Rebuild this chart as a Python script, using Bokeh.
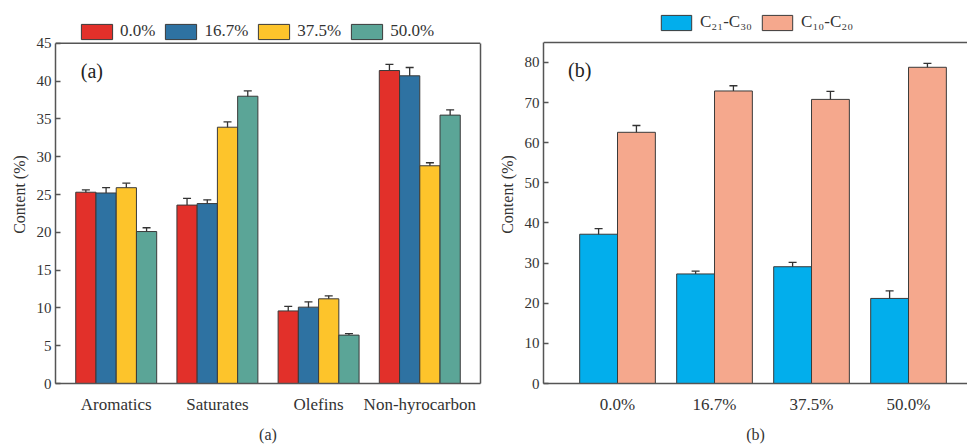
from bokeh.plotting import figure
from bokeh.layouts import row
from bokeh.models import (ColumnDataSource, Whisker, TeeHead, Legend, LegendItem,
                          FixedTicker, LinearAxis, Label, Range1d, Span)
from bokeh.embed import file_html
from bokeh.resources import INLINE

# ---------------- data (a) ----------------
categories_a = ["Aromatics", "Saturates", "Olefins", "Non-hyrocarbon"]
series_a = ["0.0%", "16.7%", "37.5%", "50.0%"]
val_00 = [25.3, 23.6, 9.6, 41.4]
err_00 = [0.3, 0.9, 0.6, 0.8]
val_167 = [25.2, 23.8, 10.1, 40.7]
err_167 = [0.7, 0.5, 0.7, 1.1]
val_375 = [25.9, 33.9, 11.2, 28.8]
err_375 = [0.6, 0.7, 0.4, 0.4]
val_500 = [20.1, 38.0, 6.4, 35.5]
err_500 = [0.5, 0.7, 0.2, 0.7]
yticks_a = [0, 5, 10, 15, 20, 25, 30, 35, 40, 45]
ymax_a = 45

# ---------------- data (b) ----------------
ratios_b = ["0.0%", "16.7%", "37.5%", "50.0%"]
series_b = ["C\u2082\u2081-C\u2083\u2080", "C\u2081\u2080-C\u2082\u2080"]
c21_c30 = [37.2, 27.3, 29.1, 21.2]
c21_err = [1.4, 0.7, 1.1, 1.9]
c10_c20 = [62.6, 72.9, 70.8, 78.8]
c10_err = [1.7, 1.3, 2.0, 1.0]
yticks_b = [0, 10, 20, 30, 40, 50, 60, 70, 80]
ymax_b = 85

FONT = "Liberation Serif"
AX = "#555555"
TXT = "#333333"
colors_a = ["#E2302A", "#2E72A2", "#FDC42B", "#5BA597"]
colors_b = ["#02AEEC", "#F5A88D"]


def style(p, ticks, ymax):
    p.xgrid.visible = False
    p.ygrid.visible = False
    p.outline_line_color = None
    p.background_fill_color = "white"
    p.border_fill_color = "white"
    for ax in (p.xaxis[0], p.yaxis[0]):
        ax.axis_line_color = AX
        ax.axis_line_width = 1.5
        ax.major_tick_line_color = AX
        ax.major_tick_line_width = 1.5
        ax.minor_tick_line_color = None
        ax.minor_tick_in = 0
        ax.minor_tick_out = 0
        ax.major_label_text_font = FONT
        ax.major_label_text_color = TXT
        ax.axis_label_text_font = FONT
        ax.axis_label_text_font_style = "normal"
        ax.axis_label_text_color = TXT
    p.yaxis.ticker = FixedTicker(ticks=ticks)
    p.yaxis.bounds = (0, ymax)
    p.yaxis.major_tick_in = 5
    p.yaxis.major_tick_out = 0
    p.yaxis.major_label_text_font_size = "15px"
    p.yaxis.major_label_standoff = 4
    p.yaxis.axis_label = "Content (%)"
    p.yaxis.axis_label_text_font_size = "16px"
    p.yaxis.axis_label_standoff = 6
    p.xaxis.major_tick_line_color = None
    p.xaxis.major_tick_in = 0
    p.xaxis.major_tick_out = 0
    p.xaxis.major_label_text_font_size = "17px"
    p.xaxis.major_label_standoff = 11
    p.xaxis.axis_label_text_font_size = "16px"
    p.xaxis.axis_label_standoff = 9
    # top edge of the plot box
    p.add_layout(Span(location=ymax, dimension="width", line_color=AX, line_width=1.5))


# ================= figure (a) =================
pa = figure(width=482, height=445, output_backend="svg", toolbar_location=None,
            x_range=Range1d(0.4, 4.6), y_range=Range1d(0, 50),
            min_border_left=55, min_border_right=2, min_border_top=5, min_border_bottom=61)
style(pa, yticks_a, ymax_a)
pa.xaxis.ticker = FixedTicker(ticks=[1, 2, 3, 4])
pa.xaxis.major_label_overrides = {i + 1: c for i, c in enumerate(categories_a)}
pa.xaxis.axis_label = "(a)"
right_a = LinearAxis(ticker=FixedTicker(ticks=[]), bounds=(0, ymax_a), axis_line_color=AX,
                     axis_line_width=1.5, major_tick_line_color=None, minor_tick_line_color=None,
                     major_tick_in=0, major_tick_out=0, minor_tick_in=0, minor_tick_out=0,
                     major_label_standoff=0)
pa.add_layout(right_a, "right")

vals_a = [val_00, val_167, val_375, val_500]
errs_a = [err_00, err_167, err_375, err_500]
n_a = len(series_a)
bw_a = 0.2
items_a = []
for k, (name, vals, errs, col) in enumerate(zip(series_a, vals_a, errs_a, colors_a)):
    off = (k - (n_a - 1) / 2) * bw_a
    xs = [i + 1 + off for i in range(len(categories_a))]
    src = ColumnDataSource(dict(x=xs, top=vals,
                                upper=[v + e for v, e in zip(vals, errs)],
                                lower=[v - e for v, e in zip(vals, errs)]))
    r = pa.vbar(x="x", top="top", width=bw_a, bottom=0, source=src, fill_color=col,
                line_color="#3a3a3a", line_width=1)
    items_a.append(LegendItem(label=name, renderers=[r]))
    pa.add_layout(Whisker(source=src, base="x", upper="upper", lower="lower",
                          line_color="#333333", line_width=1.3,
                          upper_head=TeeHead(size=8, line_color="#333333", line_width=1.3),
                          lower_head=TeeHead(size=8, line_color="#333333", line_width=1.3)))

leg_a = Legend(items=items_a, orientation="horizontal", location=(22, 342),
               glyph_width=39, glyph_height=19, label_standoff=4, spacing=6,
               padding=0, margin=0, border_line_color=None, background_fill_alpha=0,
               label_text_font=FONT, label_text_font_size="17px", label_text_color=TXT)
pa.add_layout(leg_a)
pa.add_layout(Label(x=0.65, y=41.3, text="(a)", text_font=FONT, text_font_size="20px",
                    text_color="#222222", text_baseline="middle"))

# ================= figure (b) =================
pb = figure(width=485, height=445, output_backend="svg", toolbar_location=None,
            x_range=Range1d(0.237, 4.608), y_range=Range1d(0, 94.2),
            min_border_left=61, min_border_right=0, min_border_top=5, min_border_bottom=61)
style(pb, yticks_b, ymax_b)
pb.xaxis.ticker = FixedTicker(ticks=[1, 2, 3, 4])
pb.xaxis.major_label_overrides = {i + 1: c for i, c in enumerate(ratios_b)}
pb.xaxis.axis_label = "(b)"

vals_b = [c21_c30, c10_c20]
errs_b = [c21_err, c10_err]
bw_b = 0.39
items_b = []
for k, (name, vals, errs, col) in enumerate(zip(series_b, vals_b, errs_b, colors_b)):
    off = (k - 0.5) * bw_b
    xs = [i + 1 + off for i in range(len(ratios_b))]
    src = ColumnDataSource(dict(x=xs, top=vals,
                                upper=[v + e for v, e in zip(vals, errs)],
                                lower=[v - e for v, e in zip(vals, errs)]))
    r = pb.vbar(x="x", top="top", width=bw_b, bottom=0, source=src, fill_color=col,
                line_color="#3a3a3a", line_width=1)
    items_b.append(LegendItem(label=name, renderers=[r]))
    pb.add_layout(Whisker(source=src, base="x", upper="upper", lower="lower",
                          line_color="#333333", line_width=1.3,
                          upper_head=TeeHead(size=8, line_color="#333333", line_width=1.3),
                          lower_head=TeeHead(size=8, line_color="#333333", line_width=1.3)))

leg_b = Legend(items=items_b, orientation="horizontal", location=(114, 351),
               glyph_width=38, glyph_height=19, label_standoff=5, spacing=6,
               padding=0, margin=0, border_line_color=None, background_fill_alpha=0,
               label_text_font=FONT, label_text_font_size="17px", label_text_color=TXT)
pb.add_layout(leg_b)
pb.add_layout(Label(x=0.49, y=78.2, text="(b)", text_font=FONT, text_font_size="20px",
                    text_color="#222222", text_baseline="middle"))

layout = row(pa, pb, spacing=0)
open("out.html", "w").write(file_html(layout, INLINE))
